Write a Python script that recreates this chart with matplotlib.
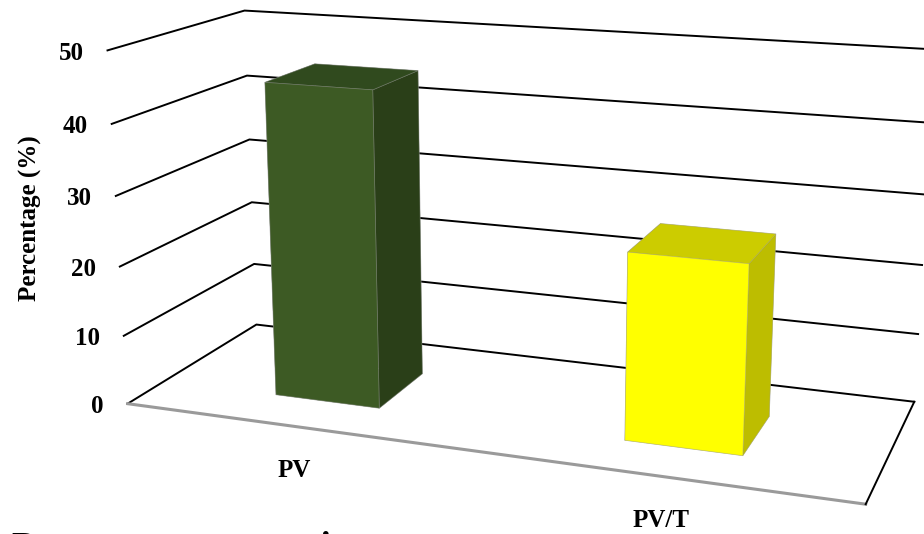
import matplotlib
matplotlib.use("Agg")
import matplotlib.pyplot as plt
from mpl_toolkits.mplot3d import proj3d
from mpl_toolkits.mplot3d.art3d import Poly3DCollection

# ---- data ----
categories = ["PV", "PV/T"]
values = [45, 26]
y_ticks = [0, 10, 20, 30, 40, 50]

# per-bar face colours (front, side, top)
front_colors = ["#3d5a24", "#ffff00"]
side_colors = ["#2a3f18", "#bdbd00"]
top_colors = ["#304a1e", "#cccc00"]

plt.rcParams["font.family"] = ["Liberation Serif", "DejaVu Serif"]
plt.rcParams["font.weight"] = "bold"

fig = plt.figure(figsize=(9.24, 5.34), dpi=100)
ax = fig.add_axes([0.0509, -0.3204, 1.0, 1.730], projection="3d", computed_zorder=False)
ax.set_proj_type("persp", focal_length=0.38)
ax.view_init(elev=15, azim=-70)
ax.set_box_aspect((2.07, 0.77, 1.0), zoom=0.93)
ax.set_xlim(0, len(categories))
ax.set_ylim(0, 1)
ax.set_zlim(0, y_ticks[-1])
ax.set_axis_off()

xmax = len(categories)

# floor
floor = Poly3DCollection([[(0, 0, 0), (xmax, 0, 0), (xmax, 1, 0), (0, 1, 0)]],
                         facecolor="white", edgecolor="none", zorder=1)
ax.add_collection3d(floor)

# gridlines on side wall + back wall
for t in y_ticks:
    ax.plot([0, 0, xmax], [0, 1, 1], [t, t, t], color="black", lw=1.4, zorder=2)
ax.plot([0, xmax], [0, 0], [0, 0], color="#9a9a9a", lw=2.2, zorder=2)
ax.plot([xmax, xmax], [0, 1], [0, 0], color="black", lw=1.4, zorder=2)

# bars
bw, bd = 0.31, 0.40
for i, v in enumerate(values):
    faces = [front_colors[i], top_colors[i], front_colors[i], front_colors[i],
             side_colors[i], side_colors[i]]
    ax.bar3d(i + 0.5 - bw / 2, 0.27, 0, bw, bd, v, color=faces,
             shade=False, edgecolor=(0.6, 0.6, 0.6, 0.5), linewidth=0.5, zorder=3)

M = ax.get_proj()
for t in y_ticks:
    x2, y2, _ = proj3d.proj_transform(0, 0, t, M)
    ax.annotate(str(t), (x2, y2), xytext=(-24, -3), textcoords="offset pixels",
                ha="right", va="center", fontsize=18, fontweight="bold",
                annotation_clip=False)

for i, c in enumerate(categories):
    x2, y2, _ = proj3d.proj_transform(i + 0.5, 0, 0, M)
    ax.annotate(c, (x2, y2), xytext=(0, -44), textcoords="offset pixels",
                ha="center", va="center", fontsize=18, fontweight="bold",
                annotation_clip=False)

fig.text(30 / 924, 1 - 218 / 534, "Percentage (%)", rotation=90,
         ha="center", va="center", fontsize=18, fontweight="bold")
fig.text(12 / 924, -24 / 534, "Percentage comparison", ha="left",
         va="baseline", fontsize=27, fontweight="bold")

fig.savefig("out.png", dpi=100)
